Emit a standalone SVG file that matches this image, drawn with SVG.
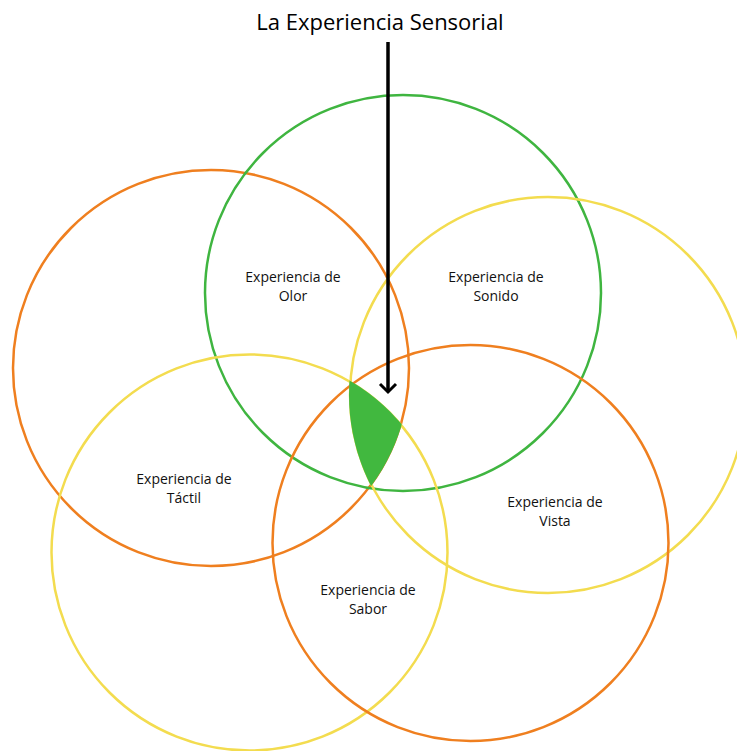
<svg xmlns="http://www.w3.org/2000/svg" width="737" height="751" viewBox="0 0 737 751">
<style>
.c{fill:none;stroke-width:2.5}
.o{stroke:#ef7f1f}
.g{stroke:#3fb540}
.y{stroke:#f3dc4f}
.t{font-family:"Open Sans","Liberation Sans",sans-serif;font-size:14px;fill:#111;text-anchor:middle}
.h{font-family:"Open Sans","Liberation Sans",sans-serif;font-size:22px;fill:#000;text-anchor:middle}
</style>
<defs>
<clipPath id="cA"><circle cx="211" cy="368" r="199"/></clipPath>
<clipPath id="cB"><circle cx="403" cy="293" r="199"/></clipPath>
<clipPath id="cC"><circle cx="548" cy="395" r="199"/></clipPath>
<clipPath id="cD"><circle cx="249.5" cy="552.5" r="199"/></clipPath>
</defs>
<rect width="737" height="751" fill="#fff"/>
<g id="circles">
<circle id="tactil-circle" class="c o" cx="211" cy="368" r="198"/>
<circle id="olor-circle" class="c g" cx="403" cy="293" r="198"/>
<circle id="vista-circle" class="c y" cx="548" cy="395" r="198"/>
<circle id="sabor-yellow-circle" class="c y" cx="249.5" cy="552.5" r="198"/>
<circle id="sabor-circle" class="c o" cx="470.5" cy="543" r="198"/>
</g>
<g id="center" clip-path="url(#cA)"><g clip-path="url(#cB)"><g clip-path="url(#cC)"><g clip-path="url(#cD)">
<rect x="300" y="350" width="150" height="160" fill="#41b83f"/>
</g></g></g></g>
<g id="connectors">
<line x1="388" y1="42" x2="388" y2="392" stroke="#000" stroke-width="3.5"/>
<polyline points="380,384 388,392 396,384" fill="none" stroke="#000" stroke-width="3"/>
</g>
<g id="title"><text class="h" x="380" y="30">La Experiencia Sensorial</text></g>
<g id="olor"><text class="t" x="293" y="282">Experiencia de</text><text class="t" x="293" y="301">Olor</text></g>
<g id="sonido"><text class="t" x="496" y="282">Experiencia de</text><text class="t" x="496" y="301">Sonido</text></g>
<g id="tactil"><text class="t" x="184" y="484">Experiencia de</text><text class="t" x="184" y="503">Táctil</text></g>
<g id="vista"><text class="t" x="555" y="507">Experiencia de</text><text class="t" x="555" y="526">Vista</text></g>
<g id="sabor"><text class="t" x="368" y="595">Experiencia de</text><text class="t" x="368" y="614">Sabor</text></g>
</svg>
